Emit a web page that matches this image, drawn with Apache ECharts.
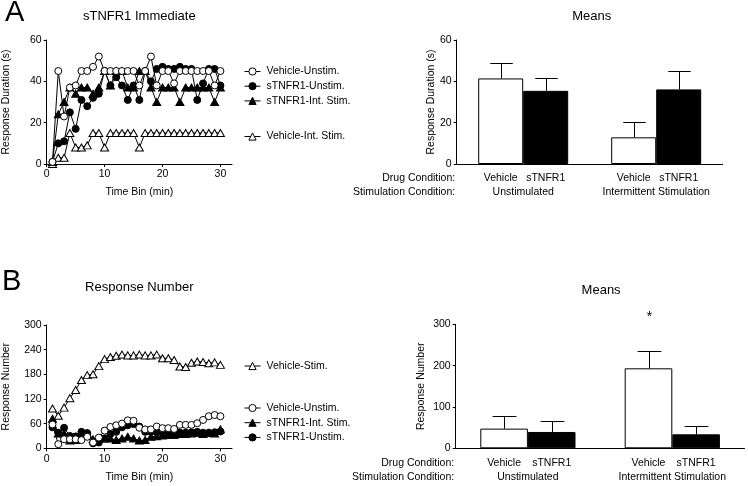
<!DOCTYPE html>
<html><head><meta charset="utf-8">
<script src="https://cdn.jsdelivr.net/npm/echarts@6/dist/echarts.min.js"></script>
<style>html,body{margin:0;padding:0;background:#fff}#c{width:748px;height:486px}</style>
</head><body><div id="c"></div>
<script>
// ---------- DATA ----------
const timeBins = [1,2,3,4,5,6,7,8,9,10,11,12,13,14,15,16,17,18,19,20,21,22,23,24,25,26,27,28,29,30];
const timeTicks = [0, 10, 20, 30];
const durTicks = [0, 20, 40, 60];
const numTicks = [0, 60, 120, 180, 240, 300];
const meanNumTicks = [0, 100, 200, 300];

// Panel A: response duration (s)
const durVehUnstim  = [1,45,23,37,38,45,45,47,52,45,45,45,45,45,45,38,45,52,38,45,45,39,45,45,45,45,45,45,38,45];
const durSUnstim    = [1,10,11,25,17,31,28,32,34,45,38,42,38,31,38,31,45,40,46,47,46,46,47,46,46,31,39,46,46,38];
const durSIntStim   = [1,24,30,37,34,37,37,34,37,45,38,45,45,37,37,45,45,37,30,37,37,37,30,37,37,37,37,37,30,37];
const durVehIntStim = [0,3,3,15,8,8,9,15,15,8,15,15,15,15,15,8,15,15,15,15,15,15,15,15,15,15,15,15,15,15];

// Panel B: response number
const numVehStim    = [97,79,99,122,142,166,178,180,200,217,222,225,228,226,226,228,226,226,228,219,219,215,199,198,208,211,210,207,209,203];
const numVehUnstim  = [58,10,22,22,22,20,28,14,26,43,52,56,60,68,67,50,46,46,53,49,49,47,57,57,57,61,69,78,81,78];
const numSIntStim   = [72,36,36,19,20,30,36,22,24,24,24,20,24,28,24,19,20,28,29,31,32,32,35,35,36,37,35,37,36,46];
const numSUnstim    = [51,38,50,30,29,40,37,12,14,24,35,40,51,56,59,53,40,40,39,40,40,39,38,38,39,40,38,38,39,41];

// Means panels
const stimConditions = ['Unstimulated', 'Intermittent Stimulation'];
const drugConditions = ['Vehicle', 'sTNFR1'];
const durMeanVehicle = [41.4, 12.9];
const durSemVehicle  = [7.7, 7.5];
const durMeanSTNFR1  = [35.4, 36.1];
const durSemSTNFR1   = [6.0, 8.8];
const numMeanVehicle = [47.6, 193.5];
const numSemVehicle  = [29.8, 41.0];
const numMeanSTNFR1  = [39.5, 33.8];
const numSemSTNFR1   = [25.8, 21.0];
const numSigVehicle  = ['', '*'];
const numSigSTNFR1   = ['', ''];

// ---------- STYLE ----------
const FONT = "'Liberation Sans', Arial, Helvetica, sans-serif";
const K = '#000';
const FS = 10.5;
const barWA = 45, barWB = 47.6;

const chart = echarts.init(document.getElementById('c'), null, {renderer: 'canvas'});

function pairs(v) { return timeBins.map((t, i) => [t, v[i]]); }

const grids = [
  {left: 46.7, top: 40, width: 185.3, height: 124},
  {left: 456.7, top: 40, width: 266, height: 124},
  {left: 46.7, top: 325, width: 185.3, height: 123.3},
  {left: 455.7, top: 324.3, width: 288.8, height: 124}
].map(g => Object.assign({containLabel: false, outerBoundsMode: 'none', show: false}, g));

const nameStyle = {color: K, fontSize: FS, fontFamily: FONT};
const labStyle = {color: K, fontSize: FS, fontFamily: FONT};

function timeAxis(gi) {
  return {
    gridIndex: gi, type: 'value', min: timeTicks[0], max: 32,
    axisLine: {show: true, onZero: false, lineStyle: {color: K, width: 1}},
    axisTick: {show: true, length: 3, customValues: timeTicks, lineStyle: {color: K, width: 1}},
    axisLabel: Object.assign({customValues: timeTicks, margin: 5}, labStyle),
    splitLine: {show: false},
    name: 'Time Bin (min)', nameLocation: 'middle', nameGap: 23, nameTextStyle: nameStyle
  };
}
function valAxis(gi, ticks, name, gap) {
  return {
    gridIndex: gi, type: 'value', min: ticks[0], max: ticks[ticks.length - 1],
    interval: ticks[1] - ticks[0],
    axisLine: {show: true, onZero: false, lineStyle: {color: K, width: 1}},
    axisTick: {show: true, length: 3, lineStyle: {color: K, width: 1}},
    axisLabel: Object.assign({margin: 5}, labStyle),
    splitLine: {show: false},
    name: name, nameLocation: 'middle', nameGap: gap, nameRotate: 90, nameTextStyle: nameStyle
  };
}
function catAxis(gi) {
  return {
    gridIndex: gi, type: 'category', data: stimConditions,
    axisLine: {show: true, lineStyle: {color: K, width: 1}},
    axisTick: {show: false}, axisLabel: {show: false}, splitLine: {show: false}
  };
}

const hollow = {color: '#fff', borderColor: K, borderWidth: 1};
const filled = {color: K, borderColor: K, borderWidth: 1};
function lineSeries(name, vals, axis, symbol, style) {
  return {
    type: 'line', name: name, xAxisIndex: axis, yAxisIndex: axis, data: pairs(vals),
    symbol: symbol, symbolSize: symbol === 'triangle' ? [8, 7] : 7, showSymbol: true,
    lineStyle: {color: K, width: 1}, itemStyle: style, emphasis: {disabled: true}
  };
}
function barSeries(name, vals, axis, w, style) {
  return {
    type: 'bar', name: name, xAxisIndex: axis, yAxisIndex: axis, data: vals,
    barWidth: w, barGap: '0%', itemStyle: style, emphasis: {disabled: true}
  };
}
function errSeries(axis, w, means, sems, sigs) {
  const data = [];
  means.forEach((m, gi) => m.forEach((v, ci) => data.push([ci, v, v + sems[gi][ci], gi])));
  const sigList = [];
  sigs.forEach((s, gi) => s.forEach((t, ci) => sigList.push(t)));
  return {
    type: 'custom', xAxisIndex: axis, yAxisIndex: axis, data: data, z: 5, clip: false,
    renderItem: function (params, api) {
      const ci = api.value(0), m = api.value(1), top = api.value(2), gi = api.value(3);
      const p0 = api.coord([ci, m]), p1 = api.coord([ci, top]);
      const x = Math.round(p0[0] + (gi === 0 ? -w / 2 : w / 2)) + 0.5;
      const yt = Math.round(p1[1]) + 0.5;
      const cap = w * 0.25;
      const st = {stroke: K, lineWidth: 1};
      const children = [
        {type: 'line', shape: {x1: x, y1: p0[1], x2: x, y2: yt}, style: st},
        {type: 'line', shape: {x1: x - cap, y1: yt, x2: x + cap, y2: yt}, style: st}
      ];
      const sig = sigList[params.dataIndex];
      if (sig) {
        children.push({type: 'text', x: x, y: yt - 34,
          style: {text: sig, fill: K, fontSize: 14, fontFamily: FONT, align: 'center', verticalAlign: 'middle'}});
      }
      return {type: 'group', children: children};
    }
  };
}

const legendBase = {orient: 'vertical', left: 244, padding: 0, itemWidth: 16, itemHeight: 9, itemGap: 3.7,
  selectedMode: false, lineStyle: {width: 1}, itemStyle: {borderWidth: 1},
  textStyle: {color: K, fontSize: FS, fontFamily: FONT, padding: [0, 0, 0, 1]}};

const option = {
  animation: false,
  backgroundColor: '#fff',
  grid: grids,
  xAxis: [timeAxis(0), catAxis(1), timeAxis(2), catAxis(3)],
  yAxis: [
    valAxis(0, durTicks, 'Response Duration (s)', 35),
    valAxis(1, durTicks, 'Response Duration (s)', 20),
    valAxis(2, numTicks, 'Response Number', 35),
    valAxis(3, meanNumTicks, 'Response Number', 29)
  ],
  legend: [
    Object.assign({}, legendBase, {top: 66, data: ['Vehicle-Unstim.', 'sTNFR1-Unstim.', 'sTNFR1-Int. Stim.']}),
    Object.assign({}, legendBase, {top: 131, data: ['Vehicle-Int. Stim.']}),
    Object.assign({}, legendBase, {top: 360.5, data: ['Vehicle-Stim.']}),
    Object.assign({}, legendBase, {top: 402.5, data: ['Vehicle-Unstim.', 'sTNFR1-Int. Stim.', 'sTNFR1-Unstim.']})
  ],
  series: [
    lineSeries('Vehicle-Int. Stim.', durVehIntStim, 0, 'triangle', hollow),
    lineSeries('sTNFR1-Int. Stim.', durSIntStim, 0, 'triangle', filled),
    lineSeries('sTNFR1-Unstim.', durSUnstim, 0, 'circle', filled),
    lineSeries('Vehicle-Unstim.', durVehUnstim, 0, 'circle', hollow),
    barSeries(drugConditions[0], durMeanVehicle, 1, barWA, {color: '#fff', borderColor: K, borderWidth: 1}),
    barSeries(drugConditions[1], durMeanSTNFR1, 1, barWA, {color: K, borderColor: K, borderWidth: 1}),
    errSeries(1, barWA, [durMeanVehicle, durMeanSTNFR1], [durSemVehicle, durSemSTNFR1], [['', ''], ['', '']]),
    lineSeries('Vehicle-Stim.', numVehStim, 2, 'triangle', hollow),
    lineSeries('sTNFR1-Int. Stim.', numSIntStim, 2, 'triangle', filled),
    lineSeries('sTNFR1-Unstim.', numSUnstim, 2, 'circle', filled),
    lineSeries('Vehicle-Unstim.', numVehUnstim, 2, 'circle', hollow),
    barSeries(drugConditions[0], numMeanVehicle, 3, barWB, {color: '#fff', borderColor: K, borderWidth: 1}),
    barSeries(drugConditions[1], numMeanSTNFR1, 3, barWB, {color: K, borderColor: K, borderWidth: 1}),
    errSeries(3, barWB, [numMeanVehicle, numMeanSTNFR1], [numSemVehicle, numSemSTNFR1], [numSigVehicle, numSigSTNFR1])
  ]
};
chart.setOption(option);

// ---------- TEXT ANNOTATIONS ----------
function txt(x, y, text, size, align) {
  return {type: 'text', x: x, y: y, silent: true,
    style: {text: text, fill: K, fontSize: size, fontFamily: FONT, align: align || 'center', verticalAlign: 'middle'}};
}
const gfx = [
  txt(5, 13, 'A', 29, 'left'),
  txt(2, 282, 'B', 29, 'left'),
  txt(grids[0].left + 92.6, 16, 'sTNFR1 Immediate', 13),
  txt(grids[1].left + grids[1].width / 2 + 2, 16, 'Means', 13),
  txt(grids[2].left + 92.6, 287, 'Response Number', 13),
  txt(grids[3].left + grids[3].width / 2 + 1, 290, 'Means', 13)
];
[[1, barWA], [3, barWB]].forEach(([gi, w]) => {
  const y0 = chart.convertToPixel({gridIndex: gi}, [0, 0])[1];
  gfx.push(txt(grids[gi].left - 1.5, y0 + 14.5, 'Drug Condition:', FS, 'right'));
  gfx.push(txt(grids[gi].left - 1.5, y0 + 28.5, 'Stimulation Condition:', FS, 'right'));
  stimConditions.forEach((s, ci) => {
    const cx = chart.convertToPixel({gridIndex: gi}, [ci, 0])[0];
    gfx.push(txt(cx - w / 2, y0 + 14.5, drugConditions[0], FS));
    gfx.push(txt(cx + w / 2, y0 + 14.5, drugConditions[1], FS));
    gfx.push(txt(cx, y0 + 28.5, s, FS));
  });
});
chart.setOption({graphic: gfx});
</script></body></html>
